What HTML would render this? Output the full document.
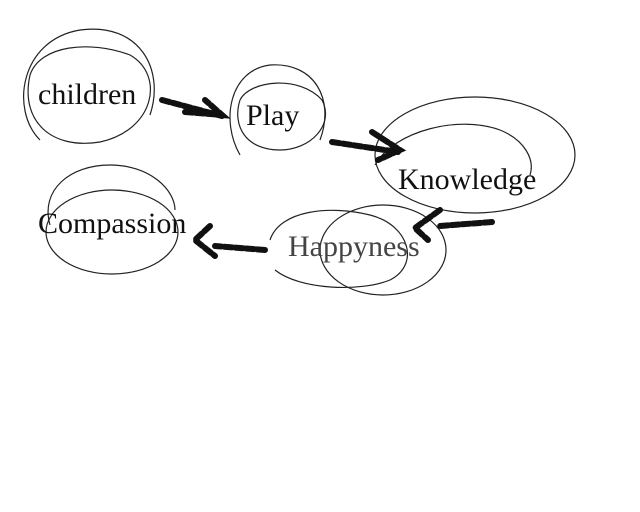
<!DOCTYPE html>
<html><head><style>
html,body{margin:0;padding:0;background:#fff;width:640px;height:512px;overflow:hidden}
svg{display:block}
text{font-family:"Liberation Serif",serif;font-size:30px;fill:#111}
</style></head><body>
<svg width="640" height="512" viewBox="0 0 640 512" xmlns="http://www.w3.org/2000/svg">
<g fill="none" stroke="#222" stroke-width="1.2">
<path d="M40,140 C10,110 20,40 80,30 C140,22 165,70 150,115"/>
<path d="M30,75 C40,45 90,40 130,55 C165,75 155,130 100,142 C50,150 20,120 30,75"/>
<path d="M240,155 C220,120 230,70 270,65 C315,62 335,100 320,140"/>
<path d="M240,100 C250,80 300,75 322,100 C335,125 310,150 280,150 C245,150 232,125 240,100"/>
<ellipse cx="475" cy="155" rx="100" ry="58"/>
<path d="M375,165 C395,130 460,115 500,130 C525,140 535,160 530,175"/>
<path d="M270,240 C280,210 330,205 370,215 C410,225 420,265 390,280 C360,292 300,290 275,270"/>
<ellipse cx="383" cy="250" rx="63" ry="45"/>
<path d="M50,225 C40,190 70,165 110,165 C150,165 175,190 175,210"/>
<ellipse cx="112" cy="232" rx="66" ry="42"/>
</g>
<g fill="none" stroke="#111" stroke-width="6" stroke-linecap="round" stroke-dasharray="8 3">
<path d="M162,100 L222,116"/>
<path d="M185,112 L222,115 L205,100"/>
<path d="M332,142 L398,152"/>
<path d="M372,132 L400,150 L378,160"/>
<path d="M492,222 L440,226"/>
<path d="M440,210 L415,228 L428,240"/>
<path d="M265,250 L215,246"/>
<path d="M210,226 L195,240 L215,256"/>
</g>
<text x="38" y="104">children</text>
<text x="246" y="125">Play</text>
<text x="398" y="189">Knowledge</text>
<text x="288" y="256" style="fill:#444">Happyness</text>
<text x="38" y="233">Compassion</text>
</svg>
</body></html>
